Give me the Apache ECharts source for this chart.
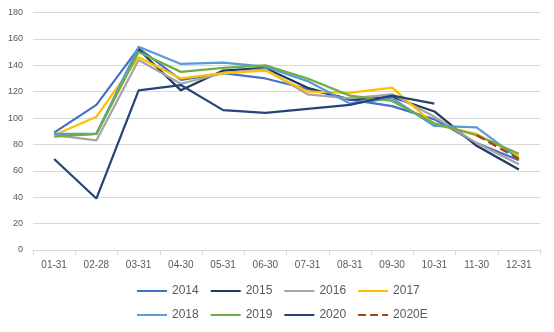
<!DOCTYPE html>
<html>
<head>
<meta charset="utf-8">
<script src="https://cdn.jsdelivr.net/npm/echarts@6/dist/echarts.min.js"></script>
<style>
html,body{margin:0;padding:0;background:#fff;}
#chart{width:554px;height:332px;}
</style>
</head>
<body>
<div id="chart"></div>
<script>
var categories = ['01-31','02-28','03-31','04-30','05-31','06-30','07-31','08-31','09-30','10-31','11-30','12-31'];
var s2014 = [89, 110, 153, 129, 134, 130, 122, 114, 109, 99, 81, 68];
var s2015 = [87, 88, 152, 121, 136, 138, 123, 114, 116, 105, 79, 61];
var s2016 = [87, 83, 144, 126, 134, 137, 118, 115, 118, 101, 81, 65];
var s2017 = [87, 101, 146, 130, 134, 136, 120, 119, 123, 95, 88, 71];
var s2018 = [88, 88, 154, 141, 142, 139, 128, 111, 115, 94, 93, 69];
var s2019 = [86, 88, 150, 135, 138, 140, 130, 117, 113, 96, 87, 73];
var s2020 = [69, 39, 121, 125, 106, 104, 107, 110, 117, 111, null, null];
var s2020E = [null, null, null, null, null, null, null, null, null, null, 87, 69];
var yTicks = [0, 20, 40, 60, 80, 100, 120, 140, 160, 180];

var seriesDefs = [
  {name:'2014', data:s2014, color:'#4472C4', type:'solid'},
  {name:'2015', data:s2015, color:'#1F3864', type:'solid'},
  {name:'2016', data:s2016, color:'#A5A5A5', type:'solid'},
  {name:'2017', data:s2017, color:'#FFC000', type:'solid'},
  {name:'2018', data:s2018, color:'#5B9BD5', type:'solid'},
  {name:'2019', data:s2019, color:'#70AD47', type:'solid'},
  {name:'2020', data:s2020, color:'#264478', type:'solid'},
  {name:'2020E', data:s2020E, color:'#9E480E', type:'dashed'}
];

var chart = echarts.init(document.getElementById('chart'), null, {renderer:'canvas'});
var font = 'Liberation Sans';
var legendCommon = {
  left: 131, itemWidth: 30, itemHeight: 10, itemGap: 11,
  itemStyle: {opacity: 0},
  textStyle: {color:'#595959', fontSize:12, fontFamily:font}
};
chart.setOption({
  animation: false,
  backgroundColor: '#fff',
  grid: {left: 33, right: 14, top: 12.5, bottom: 82, containLabel: false},
  legend: [
    Object.assign({top: 280, data: ['2014','2015','2016','2017']}, legendCommon),
    Object.assign({top: 304, data: ['2018','2019','2020','2020E']}, legendCommon)
  ],
  xAxis: {
    type: 'category', data: categories, boundaryGap: true,
    axisLine: {lineStyle: {color:'#D9D9D9', width:1}},
    axisTick: {show:true, alignWithLabel:false, length:5, lineStyle:{color:'#D9D9D9'}},
    axisLabel: {color:'#595959', fontSize:10, fontFamily:font, margin:10}
  },
  yAxis: {
    type: 'value', min: yTicks[0], max: yTicks[yTicks.length-1], interval: 20,
    axisLine: {show:false}, axisTick: {show:false},
    splitLine: {lineStyle: {color:'#D9D9D9', width:1}},
    axisLabel: {color:'#595959', fontSize:9, fontFamily:font, margin:10}
  },
  series: seriesDefs.map(function(d){
    return {
      name: d.name, type: 'line', data: d.data, symbol: 'none', showSymbol: false,
      connectNulls: false, color: d.color,
      lineStyle: {color: d.color, width: 2.25, type: d.type},
      itemStyle: {color: d.color}
    };
  })
});
</script>
</body>
</html>
